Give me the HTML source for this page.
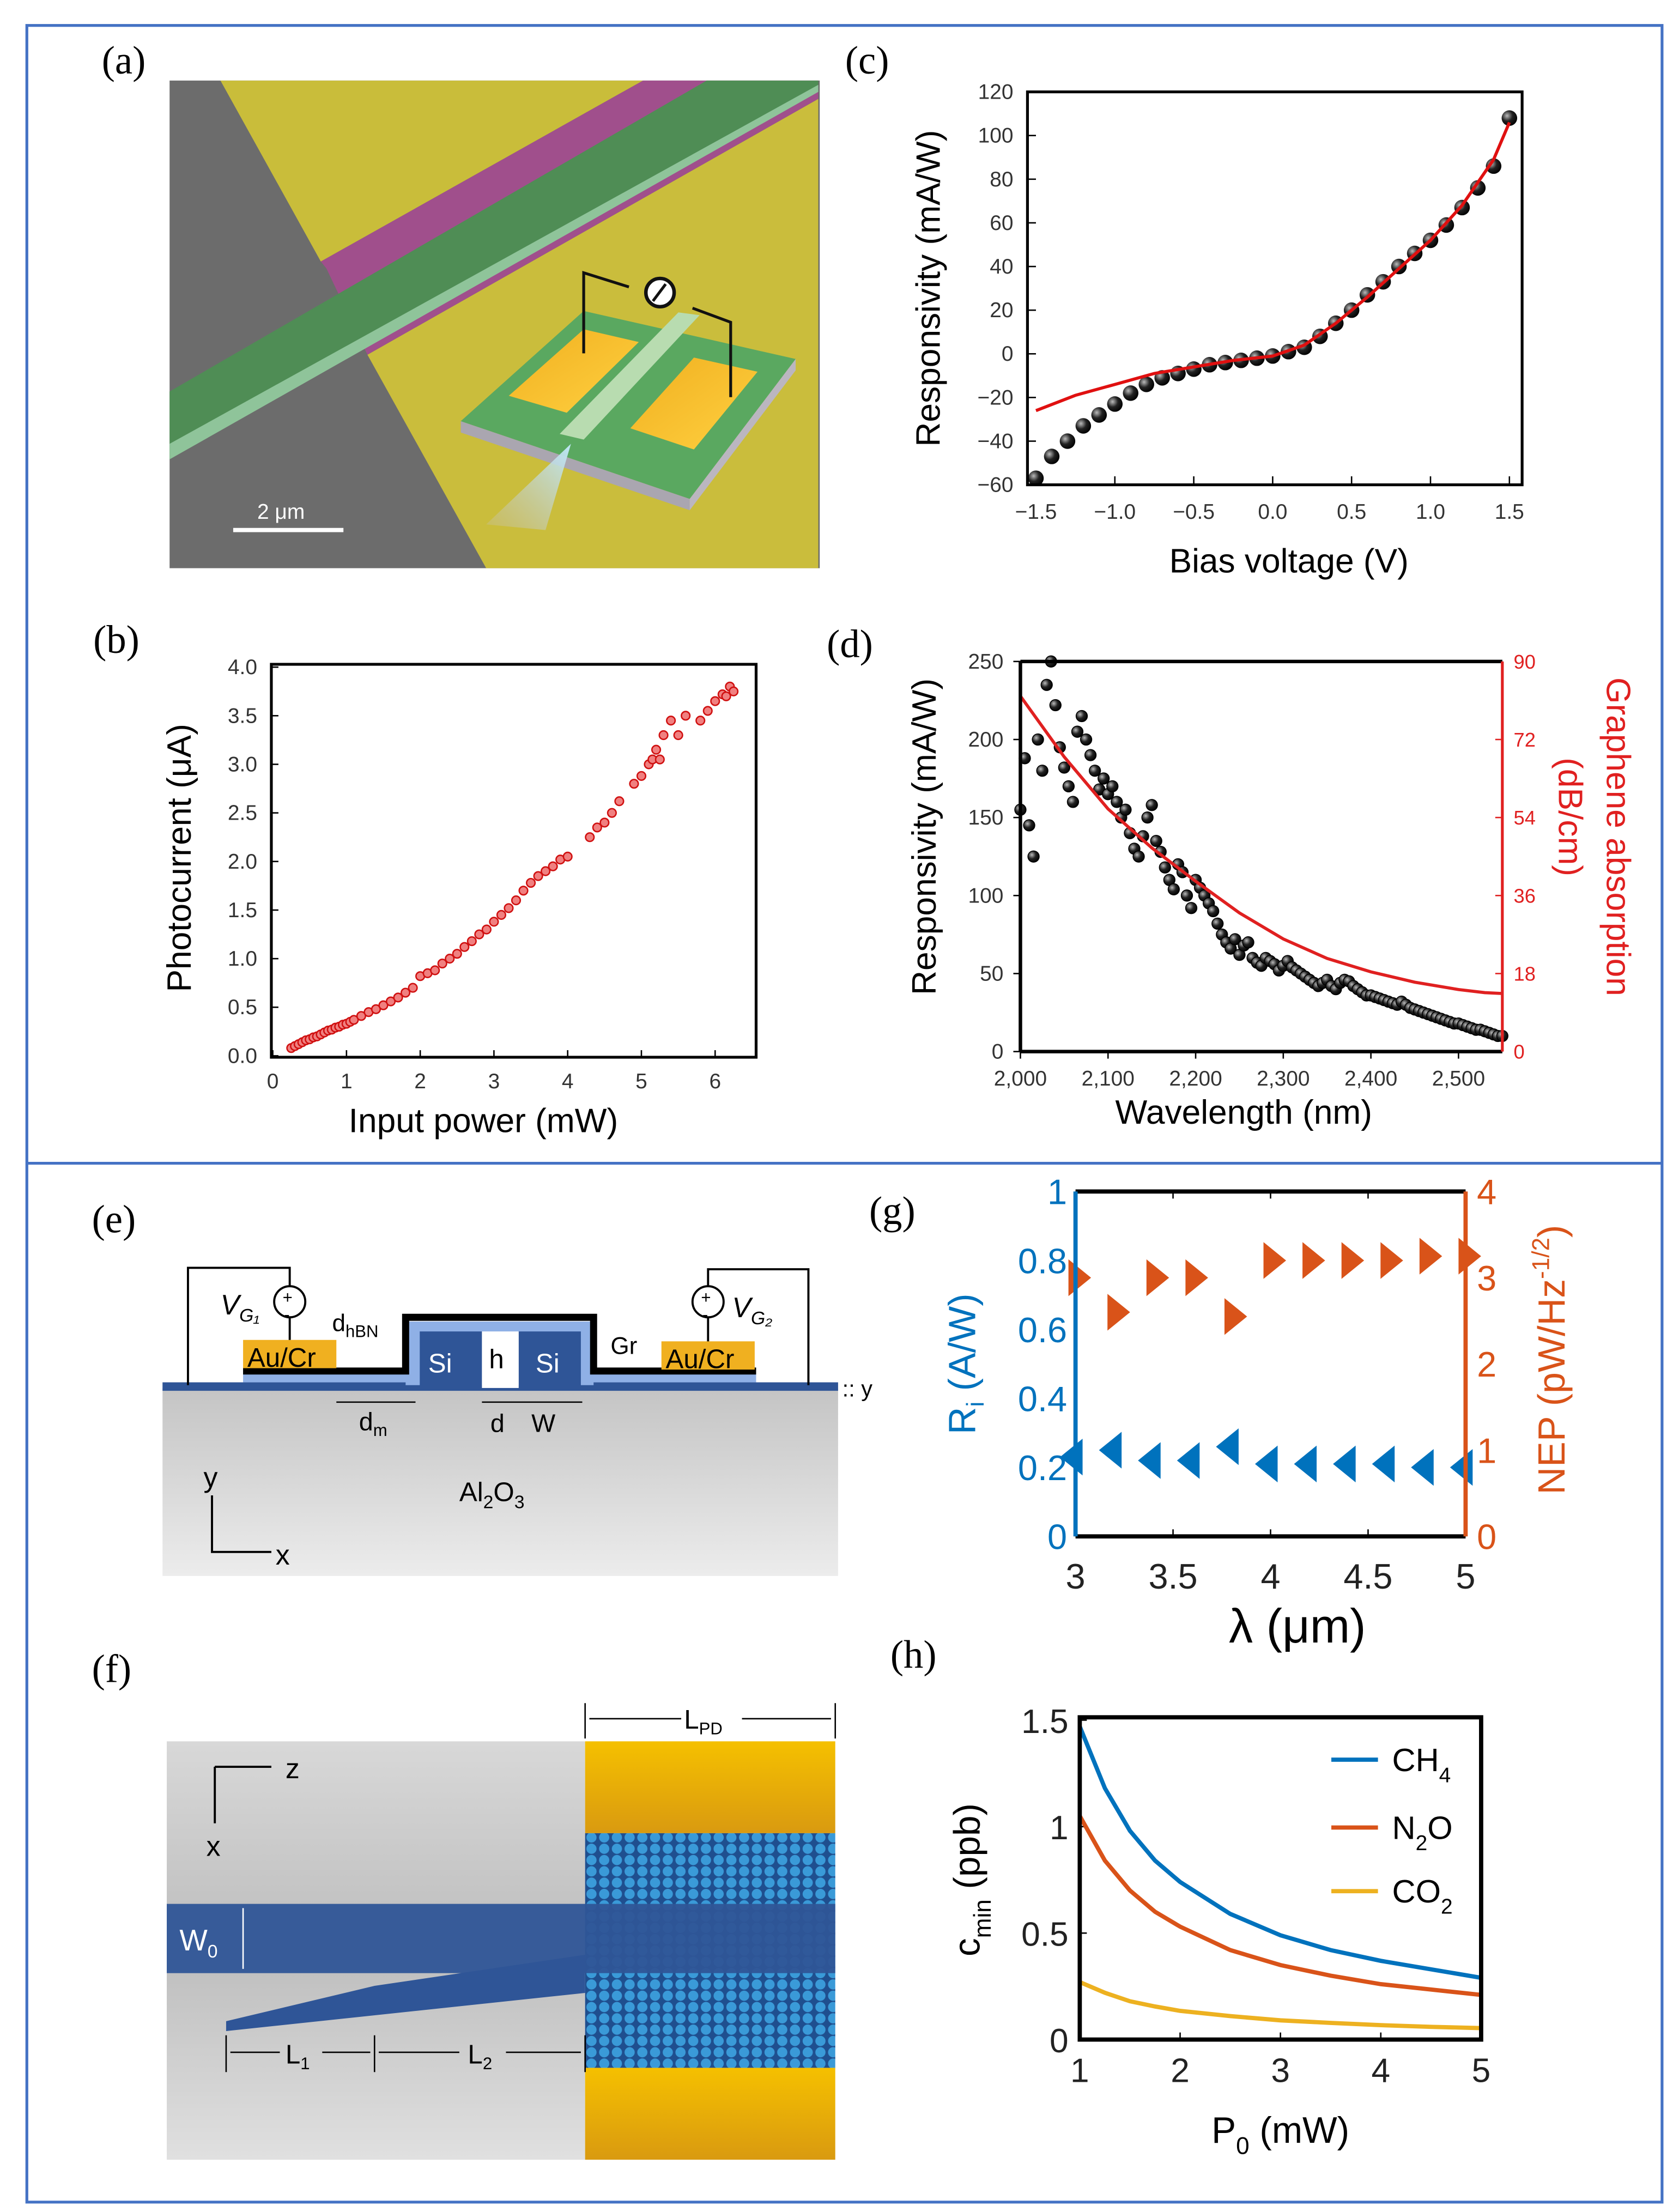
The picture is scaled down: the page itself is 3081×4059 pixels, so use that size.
<!DOCTYPE html>
<html><head><meta charset="utf-8"><style>
html,body{margin:0;padding:0;background:#fff}
svg{display:block}
text{font-family:"Liberation Sans",sans-serif}
.pl{font-family:"Liberation Serif",serif;font-size:28px}
</style></head><body>
<svg id="fig" width="3081" height="4059" viewBox="0 0 1188 1565" preserveAspectRatio="none" xmlns="http://www.w3.org/2000/svg">
<defs>
<linearGradient id="gsub" x1="0" y1="0" x2="0" y2="1"><stop offset="0" stop-color="#c4c4c4"/><stop offset="1" stop-color="#ececec"/></linearGradient>
<linearGradient id="gsub2" x1="0" y1="0" x2="0" y2="1"><stop offset="0" stop-color="#d8d8d8"/><stop offset="0.5" stop-color="#bdbdbd"/><stop offset="1" stop-color="#e0e0e0"/></linearGradient>
<linearGradient id="ggold" x1="0" y1="0" x2="0" y2="1"><stop offset="0" stop-color="#f5c000"/><stop offset="1" stop-color="#d99a10"/></linearGradient>
<linearGradient id="gpad" x1="0" y1="0" x2="1" y2="1"><stop offset="0" stop-color="#f0b020"/><stop offset="1" stop-color="#ffd040"/></linearGradient>
<linearGradient id="gbeam" x1="1" y1="0" x2="0" y2="1"><stop offset="0" stop-color="#bfe8f8"/><stop offset="1" stop-color="#c8c0a8" stop-opacity="0.3"/></linearGradient>
<pattern id="hex" width="9" height="8" patternUnits="userSpaceOnUse"><rect width="9" height="8" fill="#1f4f8f"/><circle cx="4.5" cy="4" r="3.6" fill="#3a9ad8"/></pattern>
<radialGradient id="ball" cx="0.35" cy="0.35" r="0.7"><stop offset="0" stop-color="#bbb"/><stop offset="0.5" stop-color="#222"/><stop offset="1" stop-color="#000"/></radialGradient>
</defs>
<rect x="0" y="0" width="1188" height="1565" fill="#fff"/>
<rect x="19" y="18" width="1157" height="1540" fill="none" stroke="#4472c4" stroke-width="2"/>
<line x1="19" y1="823" x2="1176" y2="823" stroke="#4472c4" stroke-width="2"/>

<!-- (a) -->
<text class="pl" x="72" y="52">(a)</text>
<g>
<rect x="120" y="57" width="460" height="345" fill="#6c6c6c"/>
<polygon points="156,57 455,57 227,185" fill="#c9bd3a"/>
<polygon points="227,185 455,57 579,57 579,70 260,251 231,190" fill="#a04f8c"/>
<polygon points="260,251 579,70 579,402 344,402" fill="#cabd3c"/>
<polygon points="120,277 500,57 579,57 579,64 120,325" fill="#4f8d55"/>
<polygon points="120,314 579,60 579,65 120,325" fill="#8fc49a"/>
<g>
<polygon points="326,298 413,220 563,254 488,353" fill="#5aa860"/>
<polygon points="326,298 488,353 488,361 326,306" fill="#aaa6b0"/>
<polygon points="488,353 563,254 563,262 488,361" fill="#bbb6c0"/>
<polygon points="360,280 413,233 452,242 401,292" fill="url(#gpad)"/>
<polygon points="446,303 491,253 536,263 491,318" fill="url(#gpad)"/>
<polygon points="396,307 480,221 495,223 413,311" fill="#b8dcb0"/>
<polyline points="413,250 413,193 445,203" fill="none" stroke="#111" stroke-width="2"/>
<polyline points="490,218 517,228 517,281" fill="none" stroke="#111" stroke-width="2"/>
<circle cx="467" cy="207" r="10" fill="#fff" stroke="#111" stroke-width="2.5"/>
<line x1="462" y1="213" x2="471" y2="201" stroke="#111" stroke-width="2"/>
<polygon points="404,314 344,371 386,375" fill="url(#gbeam)"/>
</g>
<line x1="165" y1="375" x2="243" y2="375" stroke="#fff" stroke-width="3"/>
<text x="182" y="367" font-size="15" fill="#fff">2 μm</text>
</g>

<!-- (c) -->
<text class="pl" x="598" y="52">(c)</text>
<g id="pc"></g>
<!-- (b) -->
<text class="pl" x="66" y="462">(b)</text>
<g id="pb"></g>
<!-- (d) -->
<text class="pl" x="585" y="465">(d)</text>
<g id="pd"></g>

<!-- (e) -->
<text class="pl" x="65" y="872">(e)</text>
<g>
<rect x="115" y="982" width="478" height="133" fill="url(#gsub)"/>
<rect x="115" y="978" width="478" height="6" fill="#2f5597"/>
<rect x="172" y="968" width="363" height="10" fill="#8fb0e6"/>
<rect x="287" y="935" width="133" height="45" fill="#8fb0e6"/>
<rect x="297" y="942" width="44" height="40" fill="#2f5597"/>
<rect x="367" y="942" width="44" height="40" fill="#2f5597"/>
<rect x="341" y="942" width="26" height="40" fill="#fff"/>
<polyline points="172,970 287,970 287,932 420,932 420,970 535,970" fill="none" stroke="#000" stroke-width="5"/>
<rect x="172" y="948" width="66" height="20" fill="#f0b020"/>
<rect x="468" y="949" width="66" height="20" fill="#f0b020"/>
<text x="175" y="967" font-size="19">Au/Cr</text>
<text x="471" y="968" font-size="19">Au/Cr</text>
<text x="303" y="971" font-size="19" fill="#fff">Si</text>
<text x="379" y="971" font-size="19" fill="#fff">Si</text>
<text x="346" y="968" font-size="19">h</text>
<polyline points="133,980 133,897 205,897 205,910" fill="none" stroke="#000" stroke-width="1.5"/>
<circle cx="205" cy="921" r="11" fill="#fff" stroke="#000" stroke-width="1.5"/>
<line x1="205" y1="932" x2="205" y2="948" stroke="#000" stroke-width="1.5"/>
<text x="200" y="922" font-size="12">+</text><text x="201" y="934" font-size="12">-</text>
<polyline points="572,980 572,898 501,898 501,910" fill="none" stroke="#000" stroke-width="1.5"/>
<circle cx="501" cy="921" r="11" fill="#fff" stroke="#000" stroke-width="1.5"/>
<line x1="501" y1="932" x2="501" y2="949" stroke="#000" stroke-width="1.5"/>
<text x="496" y="922" font-size="12">+</text><text x="497" y="934" font-size="12">-</text>
<text x="156" y="930" font-size="20" font-style="italic" font-family="Liberation Serif">V<tspan font-size="13" dy="5">G₁</tspan></text>
<text x="518" y="932" font-size="20" font-style="italic" font-family="Liberation Serif">V<tspan font-size="13" dy="5">G₂</tspan></text>
<text x="235" y="942" font-size="17">d<tspan font-size="12" dy="4">hBN</tspan></text>
<text x="432" y="958" font-size="17">Gr</text>
<line x1="238" y1="992" x2="294" y2="992" stroke="#000"/>
<line x1="341" y1="992" x2="412" y2="992" stroke="#000"/>
<text x="254" y="1012" font-size="18">d<tspan font-size="12" dy="4">m</tspan></text>
<text x="347" y="1013" font-size="18">d</text><text x="376" y="1013" font-size="18">W</text>
<text x="325" y="1062" font-size="19">Al<tspan font-size="13" dy="5">2</tspan><tspan dy="-5">O</tspan><tspan font-size="13" dy="5">3</tspan></text>
<polyline points="150,1058 150,1098 192,1098" fill="none" stroke="#000" stroke-width="1.5"/>
<text x="144" y="1052" font-size="20">y</text><text x="195" y="1107" font-size="20">x</text>
<text x="596" y="988" font-size="16">:: y</text>
</g>

<!-- (f) -->
<text class="pl" x="65" y="1190">(f)</text>
<g>
<rect x="118" y="1232" width="296" height="296" fill="url(#gsub2)"/>
<rect x="414" y="1232" width="177" height="65" fill="url(#ggold)"/>
<rect x="414" y="1297" width="177" height="166" fill="url(#hex)"/>
<rect x="414" y="1463" width="177" height="65" fill="url(#ggold)"/>
<rect x="118" y="1347" width="473" height="49" fill="#2f5597" opacity="0.95"/>
<polygon points="160,1430 265,1405 414,1383 414,1410 160,1437" fill="#2f5597"/>
<text x="127" y="1380" font-size="21" fill="#fff">W<tspan font-size="13" dy="5">0</tspan></text>
<line x1="172" y1="1350" x2="172" y2="1393" stroke="#fff"/>
<line x1="152" y1="1250" x2="192" y2="1250" stroke="#000" stroke-width="1.5"/>
<line x1="152" y1="1250" x2="152" y2="1290" stroke="#000" stroke-width="1.5"/>
<text x="202" y="1258" font-size="20">z</text><text x="146" y="1313" font-size="20">x</text>
<line x1="160" y1="1440" x2="160" y2="1466" stroke="#000"/><line x1="265" y1="1440" x2="265" y2="1466" stroke="#000"/><line x1="414" y1="1440" x2="414" y2="1466" stroke="#000"/>
<line x1="163" y1="1452" x2="198" y2="1452" stroke="#000"/><line x1="228" y1="1452" x2="262" y2="1452" stroke="#000"/>
<line x1="268" y1="1452" x2="325" y2="1452" stroke="#000"/><line x1="358" y1="1452" x2="411" y2="1452" stroke="#000"/>
<text x="202" y="1460" font-size="19">L<tspan font-size="12" dy="4">1</tspan></text>
<text x="331" y="1460" font-size="19">L<tspan font-size="12" dy="4">2</tspan></text>
<line x1="414" y1="1205" x2="414" y2="1230" stroke="#000"/><line x1="591" y1="1205" x2="591" y2="1230" stroke="#000"/>
<line x1="417" y1="1216" x2="482" y2="1216" stroke="#000"/><line x1="525" y1="1216" x2="588" y2="1216" stroke="#000"/>
<text x="484" y="1223" font-size="19">L<tspan font-size="12" dy="4">PD</tspan></text>
</g>

<!-- (g) -->
<text class="pl" x="615" y="866">(g)</text>
<g id="pg"></g>
<!-- (h) -->
<text class="pl" x="630" y="1180">(h)</text>
<g id="ph"></g>
</svg>
<script>
// ---- chart (c) data ----
const cX=[-1.5,-1.4,-1.3,-1.2,-1.1,-1.0,-0.9,-0.8,-0.7,-0.6,-0.5,-0.4,-0.3,-0.2,-0.1,0,0.1,0.2,0.3,0.4,0.5,0.6,0.7,0.8,0.9,1.0,1.1,1.2,1.3,1.4,1.5];
const cY=[-57,-47,-40,-33,-28,-23,-18,-14,-11,-9,-7,-5,-4,-3,-2,-1,1,3,8,14,20,27,33,40,46,52,59,67,76,86,108];
const cFitX=[-1.5,-1.25,-1.0,-0.75,-0.5,-0.25,0,0.2,0.4,0.6,0.8,1.0,1.2,1.4,1.5];
const cFitY=[-26,-19,-14,-9,-6,-3,-1,4,14,26,39,52,68,89,106];
const cXTicks=[-1.5,-1.0,-0.5,0.0,0.5,1.0,1.5];
const cXTickLabels=["-1.5","-1.0","-0.5","0.0","0.5","1.0","1.5"];
const cYTicks=[-60,-40,-20,0,20,40,60,80,100,120];
// ---- chart (b) data ----
const bX=[0.25,0.3,0.35,0.4,0.45,0.5,0.55,0.6,0.65,0.7,0.75,0.8,0.85,0.9,0.95,1.0,1.05,1.1,1.2,1.3,1.4,1.5,1.6,1.7,1.8,1.9,2.0,2.1,2.2,2.3,2.4,2.5,2.6,2.7,2.8,2.9,3.0,3.1,3.2,3.3,3.4,3.5,3.6,3.7,3.8,3.9,4.0,4.3,4.4,4.5,4.6,4.7,4.9,5.0,5.1,5.15,5.2,5.25,5.3,5.4,5.5,5.6,5.8,5.9,6.0,6.1,6.15,6.2,6.25];
const bY=[0.08,0.1,0.12,0.14,0.16,0.17,0.19,0.2,0.22,0.24,0.26,0.27,0.29,0.3,0.32,0.33,0.35,0.37,0.41,0.45,0.48,0.52,0.56,0.6,0.65,0.7,0.82,0.85,0.88,0.95,1.0,1.05,1.12,1.18,1.25,1.3,1.38,1.45,1.52,1.6,1.7,1.78,1.85,1.9,1.95,2.02,2.05,2.25,2.35,2.4,2.5,2.62,2.8,2.88,3.0,3.05,3.15,3.05,3.3,3.45,3.3,3.5,3.45,3.55,3.65,3.72,3.7,3.8,3.75];
const bXTicks=[0,1,2,3,4,5,6];
const bYTicks=[0,0.5,1,1.5,2,2.5,3,3.5,4];
const bYTickLabels=["0.0","0.5","1.0","1.5","2.0","2.5","3.0","3.5","4.0"];
// ---- chart (d) data ----
const dX=[2000,2005,2010,2015,2020,2025,2030,2035,2040,2045,2050,2055,2060,2065,2070,2075,2080,2085,2090,2095,2100,2105,2110,2115,2120,2125,2130,2135,2140,2145,2150,2155,2160,2165,2170,2175,2180,2185,2190,2195,2200,2205,2210,2215,2220,2225,2230,2235,2240,2245,2250,2255,2260,2265,2270,2275,2280,2285,2290,2295,2300,2305,2310,2315,2320,2325,2330,2335,2340,2345,2350,2355,2360,2365,2370,2375,2380,2385,2390,2395,2400,2405,2410,2415,2420,2425,2430,2435,2440,2445,2450,2455,2460,2465,2470,2475,2480,2485,2490,2495,2500,2505,2510,2515,2520,2525,2530,2535,2540,2545,2550];
const dY=[155,188,145,125,200,180,235,250,222,195,182,170,160,205,215,200,190,180,168,175,165,170,160,150,155,140,130,125,138,150,158,135,128,118,110,104,120,115,100,92,110,105,100,95,90,82,75,70,66,72,62,68,70,60,57,55,60,58,56,52,55,58,54,52,50,48,46,44,42,44,46,42,40,44,46,45,42,40,38,36,36,35,34,33,32,31,30,32,30,28,27,26,25,24,23,22,21,20,19,18,18,17,16,15,14,14,13,12,11,10,10];
const dFitX=[2000,2050,2100,2150,2200,2250,2300,2350,2400,2450,2500,2530,2550];
const dFitY=[82,68,56,47,39.3,32,26,21.5,18.4,16,14.3,13.6,13.4];
const dXTicks=[2000,2100,2200,2300,2400,2500];
const dXTickLabels=["2,000","2,100","2,200","2,300","2,400","2,500"];
const dYTicks=[0,50,100,150,200,250];
const dY2Ticks=[0,18,36,54,72,90];
// ---- chart (g) data ----
const gX=[3,3.2,3.4,3.6,3.8,4,4.2,4.4,4.6,4.8,5];
const gR=[0.23,0.25,0.22,0.22,0.26,0.21,0.21,0.21,0.21,0.2,0.2];
const gNEP=[3.0,2.6,3.0,3.0,2.55,3.2,3.2,3.2,3.2,3.25,3.25];
const gXTicks=[3,3.5,4,4.5,5];
const gYTicks=[0,0.2,0.4,0.6,0.8,1];
const gY2Ticks=[0,1,2,3,4];
// ---- chart (h) data ----
const hX=[1,1.25,1.5,1.75,2,2.5,3,3.5,4,4.5,5];
const hCH4=[1.47,1.18,0.98,0.84,0.74,0.59,0.49,0.42,0.37,0.33,0.29];
const hN2O=[1.05,0.84,0.70,0.60,0.53,0.42,0.35,0.30,0.26,0.235,0.21];
const hCO2=[0.27,0.22,0.18,0.155,0.135,0.11,0.09,0.078,0.068,0.06,0.054];
const hXTicks=[1,2,3,4,5];
const hYTicks=[0,0.5,1,1.5];
const hYTickLabels=["0","0.5","1","1.5"];

const NS="http://www.w3.org/2000/svg";
function mk(parent,tag,attrs,txt){const e=document.createElementNS(NS,tag);for(const k in attrs)e.setAttribute(k,attrs[k]);if(txt!==undefined)e.textContent=txt;parent.appendChild(e);return e;}
function lin(d0,d1,r0,r1){return v=>r0+(v-d0)*(r1-r0)/(d1-d0);}
function pathD(xs,ys,sx,sy){return xs.map((x,i)=>(i?'L':'M')+sx(x).toFixed(1)+','+sy(ys[i]).toFixed(1)).join('');}

// ===== (c) =====
(function(){
const g=document.getElementById('pc');
const L=727,R=1077,T=65,B=343;
const sx=lin(-1.5,1.5,733,1068), sy=lin(-60,120,343,65);
cYTicks.forEach(v=>{const t=mk(g,'text',{x:L-10,y:sy(v)+5,'font-size':15,'text-anchor':'end',fill:'#333'},String(v).replace('-','−'));


mk(g,'line',{x1:L,x2:L+6,y1:sy(v),y2:sy(v),stroke:'#000'});});
cXTicks.forEach((v,i)=>{const t=mk(g,'text',{x:sx(v),y:B+24,'font-size':15,'text-anchor':'middle',fill:'#333'},cXTickLabels[i].replace('-','−'));


mk(g,'line',{x1:sx(v),x2:sx(v),y1:B,y2:B-6,stroke:'#000'});});
cX.forEach((x,i)=>{const c=mk(g,'circle',{cx:sx(x),cy:sy(cY[i]),r:5.5,fill:'url(#ball)'});

});
const p=mk(g,'path',{d:pathD(cFitX,cFitY,sx,sy),fill:'none',stroke:'#e01010','stroke-width':2.2});


const f=mk(g,'rect',{x:L,y:T,width:R-L,height:B-T,fill:'none',stroke:'#000','stroke-width':2});


const xl=mk(g,'text',{x:912,y:405,'font-size':24,'text-anchor':'middle'},'Bias voltage (V)');


const yl=mk(g,'text',{x:0,y:0,'font-size':24,'text-anchor':'middle',transform:'translate(665,204) rotate(-90)'},'Responsivity  (mA/W)');


})();

// ===== (b) =====
(function(){
const g=document.getElementById('pb');
const L=192,R=535,T=470,B=748;
const sx=lin(0,6,193,506), sy=lin(0,4,747,472);
bYTicks.forEach((v,i)=>{const t=mk(g,'text',{x:L-10,y:sy(v)+5,'font-size':15,'text-anchor':'end',fill:'#333'},bYTickLabels[i]);


mk(g,'line',{x1:L,x2:L+5,y1:sy(v),y2:sy(v),stroke:'#000'});});
bXTicks.forEach(v=>{const t=mk(g,'text',{x:sx(v),y:B+22,'font-size':15,'text-anchor':'middle',fill:'#333'},String(v));


mk(g,'line',{x1:sx(v),x2:sx(v),y1:B,y2:B-5,stroke:'#000'});});
bX.forEach((x,i)=>{const c=mk(g,'circle',{cx:sx(x),cy:sy(bY[i]),r:3,fill:'#f08080',stroke:'#d01010','stroke-width':1});

});
const f=mk(g,'rect',{x:L,y:T,width:R-L,height:B-T,fill:'none',stroke:'#000','stroke-width':2});


const xl=mk(g,'text',{x:342,y:801,'font-size':24,'text-anchor':'middle'},'Input power (mW)');


const yl=mk(g,'text',{x:0,y:0,'font-size':24,'text-anchor':'middle',transform:'translate(135,607) rotate(-90)'},'Photocurrent (μA)');


})();

// ===== (d) =====
(function(){
const g=document.getElementById('pd');
const L=722,R=1063,T=468,B=744;
const sx=lin(2000,2550,722,1063), sy=lin(0,250,744,468), sy2=lin(0,90,744,468);
dYTicks.forEach(v=>{const t=mk(g,'text',{x:L-12,y:sy(v)+5,'font-size':15,'text-anchor':'end',fill:'#333'},String(v));


mk(g,'line',{x1:L-5,x2:L,y1:sy(v),y2:sy(v),stroke:'#000'});});
dY2Ticks.forEach(v=>{const t=mk(g,'text',{x:R+8,y:sy2(v)+5,'font-size':14,fill:'#e02020'},String(v));


mk(g,'line',{x1:R-5,x2:R,y1:sy2(v),y2:sy2(v),stroke:'#e02020'});});
dXTicks.forEach((v,i)=>{const t=mk(g,'text',{x:sx(v),y:B+24,'font-size':15,'text-anchor':'middle',fill:'#333'},dXTickLabels[i]);


mk(g,'line',{x1:sx(v),x2:sx(v),y1:B,y2:B+5,stroke:'#000'});});
dX.forEach((x,i)=>{const c=mk(g,'circle',{cx:sx(x),cy:sy(dY[i]),r:4,fill:'url(#ball)',stroke:'#000','stroke-width':0.6});

});
const p=mk(g,'path',{d:pathD(dFitX,dFitY,sx,sy2),fill:'none',stroke:'#e02020','stroke-width':2.2});


mk(g,'line',{x1:L,x2:R,y1:T,y2:T,stroke:'#000','stroke-width':2.5});
mk(g,'line',{x1:L,x2:R,y1:B,y2:B,stroke:'#000','stroke-width':2.5});
mk(g,'line',{x1:L,x2:L,y1:T,y2:B,stroke:'#000','stroke-width':2.5});
mk(g,'line',{x1:R,x2:R,y1:T,y2:B,stroke:'#e02020','stroke-width':2});
const xl=mk(g,'text',{x:880,y:795,'font-size':24,'text-anchor':'middle'},'Wavelength (nm)');


const yl=mk(g,'text',{x:0,y:0,'font-size':24,'text-anchor':'middle',transform:'translate(662,592) rotate(-90)'},'Responsivity  (mA/W)');


const y2=mk(g,'text',{x:0,y:0,'font-size':24,'text-anchor':'middle',fill:'#e02020',transform:'translate(1137,592) rotate(90)'},'Graphene absorption');


const y3=mk(g,'text',{x:0,y:0,'font-size':24,'text-anchor':'middle',fill:'#e02020',transform:'translate(1103,578) rotate(90)'},'(dB/cm)');


})();

// ===== (g) =====
(function(){
const g=document.getElementById('pg');
const L=761,R=1037,T=843,B=1087;
const sx=lin(3,5,761,1037), sy=lin(0,1,1087,843), sy2=lin(0,4,1087,843);
const blue='#0072bd', orange='#d95319';
gYTicks.forEach(v=>{const t=mk(g,'text',{x:L-6,y:sy(v)+9,'font-size':25,'text-anchor':'end',fill:blue},String(v));

});
gY2Ticks.forEach(v=>{const t=mk(g,'text',{x:R+8,y:sy2(v)+9,'font-size':25,fill:orange},String(v));

});
gXTicks.forEach(v=>{const t=mk(g,'text',{x:sx(v),y:B+37,'font-size':25,'text-anchor':'middle',fill:'#222'},String(v));


mk(g,'line',{x1:sx(v),x2:sx(v),y1:B,y2:B-5,stroke:'#000'});mk(g,'line',{x1:sx(v),x2:sx(v),y1:T,y2:T+5,stroke:'#000'});});
gX.forEach((x,i)=>{const X=sx(x),Y=sy(gR[i]);
const t=mk(g,'polygon',{points:`${X-11},${Y} ${X+5},${Y-13} ${X+5},${Y+13}`,fill:blue});


const Y2=sy2(gNEP[i]);
const o=mk(g,'polygon',{points:`${X+11},${Y2} ${X-5},${Y2-13} ${X-5},${Y2+13}`,fill:orange});

});
mk(g,'line',{x1:L,x2:R,y1:T,y2:T,stroke:'#000','stroke-width':3});
mk(g,'line',{x1:L,x2:R,y1:B,y2:B,stroke:'#000','stroke-width':3});
mk(g,'line',{x1:L,x2:L,y1:T,y2:B,stroke:blue,'stroke-width':3});
mk(g,'line',{x1:R,x2:R,y1:T,y2:B,stroke:orange,'stroke-width':3});
const xl=mk(g,'text',{x:918,y:1162,'font-size':34,'text-anchor':'middle','font-family':'Liberation Serif'},'λ (μm)');


const yl=mk(g,'text',{x:0,y:0,'font-size':27,'text-anchor':'middle',fill:blue,transform:'translate(690,965) rotate(-90)'},'R');


yl.innerHTML='R<tspan font-size="17" dy="6">i</tspan><tspan dy="-6"> (A/W)</tspan>';
const y2=mk(g,'text',{x:0,y:0,'font-size':27,'text-anchor':'middle',fill:orange,transform:'translate(1107,962) rotate(-90)'},'NEP');


y2.innerHTML='NEP (pW/Hz<tspan font-size="17" dy="-11">-1/2</tspan><tspan dy="11">)</tspan>';
})();

// ===== (h) =====
(function(){
const g=document.getElementById('ph');
const L=764,R=1048,T=1215,B=1443;
const sx=lin(1,5,764,1048), sy=lin(0,1.5,1443,1217);
hYTicks.forEach((v,i)=>{const t=mk(g,'text',{x:L-8,y:sy(v)+9,'font-size':24,'text-anchor':'end',fill:'#222'},hYTickLabels[i]);


mk(g,'line',{x1:L,x2:L+5,y1:sy(v),y2:sy(v),stroke:'#000'});});
hXTicks.forEach(v=>{const t=mk(g,'text',{x:sx(v),y:B+30,'font-size':24,'text-anchor':'middle',fill:'#222'},String(v));


mk(g,'line',{x1:sx(v),x2:sx(v),y1:B,y2:B-5,stroke:'#000'});});
const series=[[hCH4,'#0072bd','ch4-line'],[hN2O,'#d95319','n2o-line'],[hCO2,'#edb120','co2-line']];
series.forEach(s=>{const p=mk(g,'path',{d:pathD(hX,s[0],sx,sy),fill:'none',stroke:s[1],'stroke-width':3});

});
const f=mk(g,'rect',{x:L,y:T,width:R-L,height:B-T,fill:'none',stroke:'#000','stroke-width':3});


const leg=[['CH','4','#0072bd',1245],['N','2O','#d95319',1293],['CO','2','#edb120',1338]];
leg.forEach(l=>{const e=mk(g,'g',{});


mk(e,'line',{x1:942,x2:975,y1:l[3],y2:l[3],stroke:l[2],'stroke-width':3});
const t=mk(e,'text',{x:985,y:l[3]+8,'font-size':23});
if(l[1]==='2O'){t.innerHTML='N<tspan font-size="15" dy="8">2</tspan><tspan dy="-8">O</tspan>';}
else{t.innerHTML=l[0]+'<tspan font-size="15" dy="8">'+l[1]+'</tspan>';}});
const xl=mk(g,'text',{x:906,y:1516,'font-size':26,'text-anchor':'middle'});


xl.innerHTML='P<tspan font-size="17" dy="8">0</tspan><tspan dy="-8"> (mW)</tspan>';
const yl=mk(g,'text',{x:0,y:0,'font-size':26,'text-anchor':'middle',transform:'translate(693,1330) rotate(-90)'});


yl.innerHTML='c<tspan font-size="17" dy="8">min</tspan><tspan dy="-8"> (ppb)</tspan>';
})();
</script>
</body></html>
